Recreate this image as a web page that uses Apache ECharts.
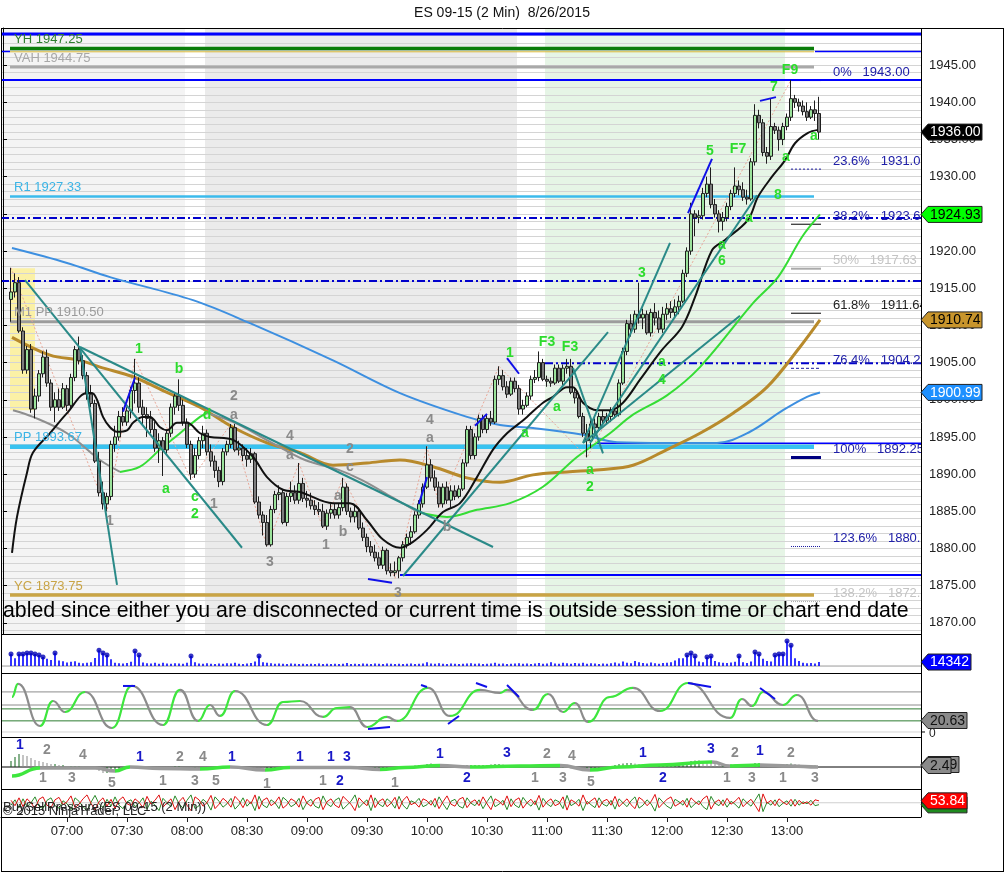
<!DOCTYPE html>
<html><head><meta charset="utf-8">
<script src="https://cdn.jsdelivr.net/npm/echarts@6/dist/echarts.min.js"></script>
<style>html,body{margin:0;padding:0;background:#fff}#c{width:1005px;height:873px}</style>
</head><body><div id="c"></div>
<script>
const FONT = '"Liberation Sans", Arial, sans-serif';

// ---------------- DATA ----------------
const titleText = 'ES 09-15 (2 Min)  8/26/2015';
const timeLabels = ['07:00','07:30','08:00','08:30','09:00','09:30','10:00','10:30','11:00','11:30','12:00','12:30','13:00'];
const firstBarMinute = 6*60+28;   // 06:28, one slot every 2 minutes
const slotCount = 230;
const candleStart = 2;            // first drawn candle slot (06:32)

// [open, close, low, high]
const candles = [
[1913.5,1914.5,1910.5,1917.75],[1914.5,1915.75,1913.75,1917],[1915.75,1909.25,1909,1916.5],[1909.25,1904,1903.5,1909.75],
[1904,1906.75,1903.5,1907.25],[1906.75,1898.75,1898.25,1907.5],[1898.75,1900.5,1897.5,1901.5],[1900.5,1903.5,1899.75,1904],
[1903.5,1905.75,1903,1906.5],[1905.75,1902.25,1901.75,1906.75],[1902.25,1899,1898.5,1902.75],[1899,1900,1897,1901],
[1900,1899,1898.5,1901.5],[1899,1901.5,1898.75,1902.25],[1901.5,1899.25,1898.5,1902],[1899.25,1903,1898.75,1903.5],
[1903,1906.75,1902.5,1907.25],[1906.75,1905.25,1904.75,1908.5],[1905.25,1903.25,1902.75,1906],[1903.25,1900.75,1900,1903.75],
[1900.75,1899.5,1899,1902],[1899.5,1891.75,1891.5,1900],[1891.75,1887.5,1887,1893],[1887.5,1886,1885.25,1889],
[1886,1887,1885,1887.5],[1887,1894,1886.5,1894.5],[1894,1895,1893,1896.5],[1895,1897.75,1894.5,1898.5],
[1897.75,1897,1896.5,1899],[1897,1898.5,1896.5,1899],[1898.5,1901.25,1897.5,1901.75],[1901.25,1902.25,1899.5,1905.5],
[1902.25,1899,1898.25,1903],[1899,1898,1896.5,1900],[1898,1897.5,1895,1899],[1897.5,1896,1895.5,1898.5],
[1896,1893.5,1893,1897],[1893.5,1894.5,1891.5,1895.5],[1894.5,1893.25,1889.75,1895],[1893.25,1895.5,1892.75,1896],
[1895.5,1899,1895,1899.5],[1899,1900.5,1898,1901],[1900.5,1899.25,1898.5,1902.75],[1899.25,1897,1896.5,1900],
[1897,1894,1893.5,1897.5],[1894,1890,1889.25,1894.5],[1890,1892.5,1889.5,1893.5],[1892.5,1894.5,1892,1895],
[1894.5,1895.5,1893.5,1896.5],[1895.5,1893,1892.5,1896],[1893,1891.75,1891,1894],[1891.75,1890.5,1889.5,1892.5],
[1890.5,1889,1888.25,1891],[1889,1893,1888.5,1893.5],[1893,1894,1892.5,1894.5],[1894,1896.25,1893.5,1896.75],
[1896.25,1893.25,1893,1896.75],[1893.25,1893.5,1892.5,1894.5],[1893.5,1892.5,1891.75,1894],[1892.5,1892,1891,1893.5],
[1892,1892.75,1891.5,1893.5],[1892.75,1886.25,1886,1893],[1886.25,1884.5,1884,1887],[1884.5,1883.5,1881.75,1885],
[1883.5,1880.5,1880.25,1884.5],[1880.5,1885.25,1880.25,1885.75],[1885.25,1887.25,1884.75,1887.75],[1887.25,1887.5,1886.5,1888.5],
[1887.5,1883.5,1883.25,1888],[1883.5,1887,1883,1887.5],[1887,1887.5,1886.25,1889],[1887.5,1886.5,1886,1888.5],
[1886.5,1888.75,1886,1891.5],[1888.75,1886.75,1886.25,1889.5],[1886.75,1886.5,1885.5,1887.75],[1886.5,1885.75,1885.25,1887.5],
[1885.75,1885.25,1884.5,1886.5],[1885.25,1885,1884.5,1886.25],[1885,1883,1882.75,1886],[1883,1884.75,1882.5,1885.25],
[1884.75,1885.25,1884,1886],[1885.25,1884.5,1884,1886],[1884.5,1885.5,1884,1886],[1885.5,1888.25,1885,1889.5],
[1888.25,1885,1884.5,1888.75],[1885,1884.25,1883.5,1885.5],[1884.25,1885,1883.5,1886],[1885,1882.75,1882.5,1885.5],
[1882.75,1881.5,1881,1883.5],[1881.5,1880.25,1879.5,1882],[1880.25,1879.5,1879,1881],[1879.5,1878.75,1878.25,1880.5],
[1878.75,1877.75,1877.25,1879.5],[1877.75,1879.75,1877.25,1880.25],[1879.75,1877,1876.5,1880],[1877,1876.75,1876.25,1878],
[1876.75,1877,1876.25,1878.25],[1877,1878.75,1876,1879],[1878.75,1880.5,1878.25,1881],[1880.5,1881.5,1880,1882],
[1881.5,1882.25,1880.5,1883],[1882.25,1884.5,1882,1885],[1884.5,1886,1884,1886.5],[1886,1888.25,1885.5,1888.75],
[1888.25,1891.25,1888,1893.75],[1891.25,1889.5,1889,1892],[1889.5,1888.25,1887.75,1890.5],[1888.25,1886,1885.5,1889],
[1886,1888.25,1885.5,1888.75],[1888.25,1886.5,1886,1889],[1886.5,1887.75,1885.5,1888.5],[1887.75,1887,1886.5,1888.5],
[1887,1888,1886.75,1888.5],[1888,1891.5,1887.75,1892],[1891.5,1896,1891,1896.5],[1896,1892.5,1892,1896.5],
[1892.5,1895,1892,1895.5],[1895,1897.5,1894.5,1898],[1897.5,1896,1895.5,1898],[1896,1897.5,1895.5,1898],
[1897.5,1897,1896.5,1898.5],[1897,1902.75,1896.75,1903.25],[1902.75,1903.25,1902,1904.5],[1903.25,1901.75,1901.25,1904],
[1901.75,1900.75,1900.25,1902.5],[1900.75,1902.5,1900.5,1903],[1902.5,1901.5,1901,1903],[1901.5,1898.75,1898,1902],
[1898.75,1899.25,1898,1900],[1899.25,1900.5,1899,1901],[1900.5,1902.75,1900,1903.25],[1902.75,1903,1902.25,1904],
[1903,1905,1902.5,1906.5],[1905,1902.75,1902.5,1905.5],[1902.75,1902.5,1901.75,1903.25],[1902.5,1902.25,1901.75,1903],
[1902.25,1904.25,1902,1904.75],[1904.25,1902.5,1902.25,1904.75],[1902.5,1904.25,1902,1904.75],[1904.25,1904.5,1903.5,1905.5],
[1904.5,1901,1900.75,1905.5],[1901,1900.25,1899.5,1901.5],[1900.25,1897.75,1897.5,1900.5],[1897.75,1895.5,1895,1898.25],
[1895.5,1894.5,1892.25,1896.75],[1894.5,1896.75,1893.5,1897.25],[1896.75,1896.25,1895.5,1897.5],[1896.25,1897.75,1896,1898.25],
[1897.75,1897.25,1896.75,1898.5],[1897.25,1897.75,1896.75,1898.25],[1897.75,1898.5,1897,1899],[1898.5,1898,1897.5,1899],
[1898,1902.25,1897.75,1902.75],[1902.25,1906.5,1902,1907],[1906.5,1910.25,1906,1910.75],[1910.25,1909.5,1908.5,1911.5],
[1909.5,1911.5,1909,1912],[1911.5,1911,1910.25,1915.75],[1911,1911.5,1909.5,1912.25],[1911.5,1909,1908.75,1912],
[1909,1911.75,1908.5,1912.25],[1911.75,1911,1910,1913],[1911,1909.5,1909,1912],[1909.5,1911.5,1909,1912.5],
[1911.5,1912.25,1910.75,1913],[1912.25,1911.75,1911,1913.25],[1911.75,1912.5,1911,1913.5],[1912.5,1913.25,1911.5,1914],
[1913.25,1917,1913,1917.5],[1917,1920,1916.5,1920.5],[1920,1925,1919.5,1926.5],[1925,1924.5,1922,1925.5],
[1924.5,1924.75,1923.75,1925.5],[1924.75,1927.75,1924.25,1928.5],[1927.75,1929,1927.25,1930],[1929,1926.25,1925.75,1931.25],
[1926.25,1925,1924.5,1927],[1925,1924,1922.5,1925.5],[1924,1924.5,1922.75,1925.25],[1924.5,1926,1924,1926.5],
[1926,1927.75,1925.5,1928.25],[1927.75,1928.75,1927.25,1931.25],[1928.75,1928.25,1927.5,1929.5],[1928.25,1927.25,1926.75,1929.25],
[1927.25,1927,1926.25,1928.25],[1927,1932,1926.75,1932.5],[1932,1938.25,1931.5,1939.75],[1938.25,1937.25,1936.5,1939],
[1937.25,1933.25,1932.75,1937.75],[1933.25,1932.75,1931.75,1934],[1932.75,1936.75,1932.25,1940.5],[1936.75,1936.25,1935.75,1937.25],
[1936.25,1935,1933.5,1936.75],[1935,1936.75,1934.25,1937.25],[1936.75,1938,1936.25,1938.5],[1938,1940.5,1937.5,1943],
[1940.5,1940,1939.25,1941],[1940,1939.5,1938.75,1940.5],[1939.5,1938.75,1938.25,1940.25],[1938.75,1938,1937.5,1940],
[1938,1939,1937.75,1939.5],[1939,1938.5,1937.5,1940.25],[1938.5,1936,1935,1940.75]
];

const volume = [
43000,28000,43000,43000,47000,47000,43000,40000,32000,26000,22000,47000,20000,17000,13000,
15000,17000,12000,10000,12000,14000,29000,57000,47000,40000,24000,12000,10000,9000,11000,
15000,54000,40000,13000,10000,9000,12000,8000,12000,9000,8000,10000,9000,8000,12000,
36000,14000,9000,8000,10000,8000,7000,9000,8000,10000,9000,12000,8000,7000,9000,
11000,16000,36000,14000,12000,10000,8000,9000,8000,7000,9000,8000,7000,8000,7000,
8000,7000,9000,7000,8000,7000,8000,7000,8000,11000,7000,8000,7000,9000,8000,
7000,9000,8000,7000,9000,8000,7000,8000,7000,8000,9000,7000,8000,9000,14000,
9000,8000,10000,8000,7000,9000,8000,7000,8000,9000,10000,8000,9000,7000,8000,
9000,12000,8000,9000,7000,8000,9000,10000,8000,9000,7000,9000,11000,8000,9000,
14000,9000,8000,12000,10000,8000,11000,9000,12000,8000,10000,9000,7000,9000,8000,
10000,13000,9000,16000,12000,10000,18000,14000,11000,9000,13000,10000,8000,11000,12000,
14000,20000,28000,28000,40000,47000,36000,16000,14000,32000,36000,18000,14000,12000,11000,
13000,15000,36000,14000,11000,16000,50000,43000,26000,18000,16000,40000,43000,43000,90000,
75000,28000,18000,12000,10000,11000,9000,14342
];

const momentumHist = [
6,10,13,12,11,9,7,6,5,4,3,3,2,2,1,
1,1,1,0.5,0,-0.5,-2,-4,-6,-6,-5,-3,-2,-1,0,
0.5,1,0.5,0,-0.5,-1,-1,-1.5,-1,-0.5,0,0.5,0.5,0,-0.5,
-1,-1,-0.5,0,0,0,-0.5,-0.5,0,0.5,0.5,0,0,-0.5,-0.5,
-1,-2,-3,-4,-4,-3,-2,-1,-1,-0.5,0,0,0,0,0,
-0.5,-0.5,-1,-1,-1,-0.5,0,0,0,0,-0.5,-1,-1,-1.5,-2,
-2.5,-2.5,-2.5,-2,-2,-1.5,-1,-0.5,0,0.5,1,1.5,2,2,3,
3.5,3,2.5,2,1.5,1,1,1,1.5,2,2,2,2,2,2,
2.5,3,3,2.5,2,1.5,1,1,1,1.5,1.5,2,2,1.5,1,
0.5,0,-0.5,-0.5,-1,-1.5,-2,-3,-3.5,-3.5,-3,-2.5,-2,-1,0,
1,2,3,3.5,4,4,3.5,3,2.5,2,1.5,1,1,1,1.5,
2,2.5,3,4,5,6,6.5,6.5,6,5,4,3,2,2,2,
2.5,2.5,2,2,1.5,3,4,4,3,3,3,2.5,2,2.5,3,
3.5,3,2.5,2,2,1.5,1.5,1
];

const sellPressure = [
55,44,60,42,58,50,38,57,62,45,40,56,61,46,52,
64,40,47,58,66,49,35,52,60,43,57,38,55,62,48,
44,58,51,40,63,47,55,66,41,50,58,36,52,61,45,
34,62,56,43,50,65,38,47,59,52,41,63,54,40,57,
48,66,37,55,60,44,50,62,39,46,58,53,41,64,49,
43,57,61,36,52,58,45,40,63,55,47,34,60,51,44,
66,40,53,58,42,49,61,37,55,63,46,50,41,58,54,
45,59,38,52,64,47,43,57,61,40,51,56,44,62,48,
36,58,53,45,64,42,55,60,39,50,57,46,65,41,52,
58,44,48,62,35,56,51,43,66,47,54,60,40,53,57,
45,63,42,50,58,46,38,61,55,44,52,67,40,49,57,
62,43,48,55,41,60,52,46,58,64,37,51,56,44,59,
47,53,61,42,50,57,45,32,68,49,55,44,58,51,46,
57,43,55,48,52,45,56,53.84
];
const buyPressure = [
45,56,40,58,42,50,62,43,38,55,60,44,39,54,48,
36,60,53,42,34,51,65,48,40,57,43,62,45,38,52,
56,42,49,60,37,53,45,34,59,50,42,64,48,39,55,
66,38,44,57,50,35,62,53,41,48,59,37,46,60,43,
52,34,63,45,40,56,50,38,61,54,42,47,59,36,51,
57,43,39,64,48,42,55,60,37,45,53,66,40,49,56,
34,60,47,42,58,51,39,63,45,37,54,50,59,42,46,
55,41,62,48,36,53,57,43,39,60,49,44,56,38,52,
64,42,47,55,36,58,45,40,61,50,43,54,35,59,48,
42,56,52,38,65,44,49,57,34,53,46,40,60,47,43,
55,37,58,50,42,54,62,39,45,56,48,33,60,51,43,
38,57,52,45,59,40,48,54,42,36,63,49,44,56,41,
53,47,39,58,50,43,55,68,32,51,45,56,42,49,54,
43,57,45,52,48,55,44,46.16
];

// moving averages as [slot, price]
const emaFast = [[2.25,1879.4],[3.5,1884.25],[6,1890.2],[7.5,1892.9],[11.75,1895.5],[16,1898.2],[21,1900.9],[22.25,1900.9],[23.5,1900],[25,1897.7],[26.75,1896.3],[28.5,1895.7],[31,1895.9],[32.5,1896.9],[35,1897.7],[36.75,1897.7],[39.25,1896.3],[41,1895.9],[43.5,1896.9],[46,1896.9],[49.25,1895.5],[51.75,1895],[57.5,1894.6],[62.5,1892.3],[66,1889.6],[70,1887.9],[74.25,1887.6],[82.5,1886.1],[86.75,1886.1],[91,1883.8],[95,1881.2],[99.25,1880.1],[102.5,1880.9],[106,1882.5],[110,1884.9],[114.25,1886.1],[118.5,1889.6],[122.5,1893.3],[126,1895.5],[129.25,1896.9],[131,1897.7],[135,1899.6],[137.5,1900.4],[141,1901.7],[142.5,1901.7],[145,1899.6],[148.5,1898.6],[151.75,1898.6],[155,1899.6],[159.25,1902.7],[164.75,1906.7],[169.75,1909.8],[173,1913.8],[177.25,1920.1],[180.5,1921.5],[186.25,1924.2],[188.75,1927.3],[192.25,1930],[195.5,1932.2],[198,1934.5],[201.25,1935.9],[203.75,1936.3]];
const smaMidFallA = [[2.5,1898.6],[7.5,1897.7],[16,1895.5],[24.25,1891.9],[29.25,1890.3]];
const smaMidRiseA = [[29.25,1890.3],[34.25,1891],[39.25,1893.3],[44.25,1895.5],[49.25,1897.7],[51,1898.2]];
const smaMidFallB = [[51,1898.2],[58,1896.9],[67.25,1894.2],[75.5,1891.9],[83.75,1890.6],[89.75,1889.2],[97.25,1886.9],[103.75,1884.9]];
const smaMidRiseB = [[103.75,1884.9],[111,1884.25],[118.5,1885.2],[126.75,1886.1],[135,1888.3],[143.5,1892.3],[151.75,1895.5],[157.5,1898],[166,1900.6],[174.25,1904.4],[187.5,1913],[193.75,1916.5],[199.75,1921.9],[204.25,1924.93]];
const smaSlow = [[2.25,1908.4],[11.75,1906],[19.25,1905.3],[24.25,1904.4],[32.5,1903.1],[41,1901],[49.25,1899],[57.5,1896.3],[66,1894.2],[74.25,1892.9],[82.5,1891.2],[91,1891.5],[99.25,1891.9],[107.5,1891],[116,1889.5],[124.25,1888.9],[132.5,1889.9],[141,1890.3],[149.25,1890.6],[157.5,1891.2],[166,1893.3],[174.25,1895.5],[182.5,1898.2],[191,1901.7],[199.25,1907.1],[204.25,1910.74]];
const sma200 = [[2.25,1920.4],[16,1918.4],[26.75,1916.5],[47.5,1913.4],[61.75,1910.3],[82.5,1905.3],[99.25,1900.9],[116,1897.7],[124.25,1896.6],[132.5,1896.2],[145,1895.3],[153.5,1894.3],[166,1894.2],[178.5,1894.2],[186.75,1895.7],[195,1898.6],[201,1900.4],[204.25,1900.99]];

const zigzag = [[2,1917.75],[26,1885],[33,1905.5],[47,1889.25],[57,1896.75],[66,1880.25],[74,1891.5],[80,1882.75],[85,1889.5],[98,1876],[106,1893.75],[109,1885.5],[124,1904.5],[146,1892.25],[197,1943]];

// trend lines [x0, p0, x1, p1]
const trendLines = [[5.5,1916.1,59.75,1880.1],[19.25,1907.1,28.5,1875.1],[19.25,1907.1,122.5,1880.2],[100,1876.3,151.25,1909.1],[145,1894.2,184.25,1911.3],[142.5,1904.3,150,1892.8],[145,1894.2,166.75,1921.1],[146.75,1894.2,188.5,1927.5]];
const blueSwings = [[30,1898.4,33,1903],[91.25,1875.9,97.25,1875.4],[104,1886,106,1889.6],[118,1896.5,121,1898.1],[126,1905.6,129,1903.5],[171.25,1925.1,177.25,1932.4],[189.25,1940.2,193.25,1940.7]];

// horizontal price levels [x0, x1, price]
const levelLines = {
  topBlue: [-0.5, 229.5, 1949.2],
  blueHigh: [203, 229.5, 1946.85],
  blueHighLeft: [-0.5, 1.75, 1946.85],
  yh: [1.75, 202.75, 1947.25],
  yhGold: [1.75, 202.75, 1946.8],
  vah: [1.75, 202.75, 1944.75],
  fibTop: [-0.5, 229.5, 1943.0],
  r1: [1.75, 202.75, 1927.33],
  dashA: [-0.5, 229.5, 1924.44],
  dashB: [-0.5, 229.5, 1915.97],
  mpp: [1.75, 202.75, 1910.50],
  dashC: [135.5, 229.5, 1904.9],
  pp: [1.75, 202.75, 1893.67],
  blueMid: [148.5, 229.5, 1894.16],
  blueLow: [99.25, 229.5, 1876.45],
  yc: [1.75, 202.75, 1873.75]
};
const levelLabels = [[2.75,1947.25,'YH 1947.25'],[2.75,1944.75,'VAH 1944.75'],[2.75,1927.33,'R1 1927.33'],[2.75,1910.50,'M1 PP 1910.50'],[2.75,1893.67,'PP 1893.67'],[2.75,1873.75,'YC 1873.75']];
const fibLevels = [['0%',1943.00],['23.6%',1931.02],['38.2%',1923.61],['50%',1917.63],['61.8%',1911.64],['76.4%',1904.23],['100%',1892.25],['123.6%',1880.27],['138.2%',1872.86]];
const fibSpan = [197, 204.5];

const sessionBands = [[-0.5,45.5],[50.5,128.5],[135.5,195.5]];
const highlightBox = [1.75, 8, 1898.6, 1917.7];

const greenWaveLabels = [[34,1906.8,'1'],[44,1904.1,'b'],[40.75,1888,'a'],[48,1886.9,'c'],[48,1884.6,'2'],[51,1898,'d'],[126.75,1906.3,'1'],[136,1907.8,'F3'],[141.75,1907.1,'F3'],[130.5,1895.5,'a'],[138.5,1899,'a'],[146.75,1890.6,'a'],[146.75,1888.3,'2'],[164.75,1905,'a'],[164.75,1902.7,'4'],[159.75,1917,'3'],[176.75,1933.4,'5'],[183.75,1933.7,'F7'],[179.75,1920.8,'a'],[179.75,1918.7,'6'],[186.5,1924.4,'a'],[193.75,1927.5,'8'],[192.75,1942,'7'],[196.75,1944.3,'F9'],[195.75,1932.6,'a'],[202.75,1935.5,'a']];
const grayWaveLabels = [[26.75,1883.7,'1'],[57.75,1900.5,'2'],[57.75,1898,'a'],[52.75,1885.9,'1'],[71.75,1895.1,'4'],[71.75,1892.6,'a'],[66.75,1878.1,'3'],[86.75,1893.3,'2'],[86.75,1891,'c'],[83.75,1887,'a'],[85,1882.2,'b'],[80.75,1880.5,'1'],[106.75,1897.3,'4'],[106.75,1894.9,'a'],[98.75,1874,'3'],[111,1882.9,'b']];

const oscTurns = [[2.25,62.9],[3.75,86.3],[9.25,10.8],[12.5,55.7],[15.5,35.9],[20.5,71.9],[27.25,7.2],[32.25,82.7],[40,12.6],[44.25,75.5],[48.75,19.8],[51.75,48.5],[54.25,28.8],[58,73.7],[66,12.6],[70,53.9],[74.25,55.7],[80,27],[83.5,43.1],[86.75,44.9],[91,9],[96,27],[98.5,19.8],[106.25,79.1],[111.75,28.8],[119.25,75.5],[124.25,70.1],[126,75.5],[132.5,39.5],[136.25,68.3],[140,35.9],[143,52.1],[146.25,18],[151.75,62.9],[157.5,79.1],[164.25,37.7],[171.25,88],[181.75,25.2],[184.75,59.3],[187.25,46.7],[190,71.9],[195,48.5],[198.5,66.5],[203.75,19.8]];
const oscLevels = [72, 48.5, 41.5, 20, 0];
const oscSwings = [[30,82.7,33,82.7],[91.25,5.4,96.75,9],[104.5,84.5,106,80.9],[111.25,14.4,114,28.8],[118.25,88,121,80.9],[126,84.5,129,62.9],[171.25,88,177,80.9],[189.25,79.1,193,59.3]];

const momTurns = [[2.25,-9],[9.25,-1],[23,-1],[28,-4],[31.75,0],[39.25,-1.5],[49.25,-2],[56.75,0],[65.5,-3],[71.75,-0.5],[86.75,-0.5],[94.25,-2.5],[100.5,-0.5],[109.25,1.5],[116.75,0],[129.25,1],[139.25,1.5],[146.75,-3],[154.25,0],[164.25,2],[177.25,5],[181.75,1],[189.25,2],[196.75,1],[203.75,0]];
const momLabelsBlue = [[4.25,22,'1'],[34.25,10,'1'],[57.25,10,'1'],[74.25,10,'1'],[82,10,'1'],[86,10,'3'],[109.25,13,'1'],[126,14,'3'],[160,14,'1'],[177,18,'3'],[189.25,16,'1'],[84.25,-14,'2'],[116,-11,'2'],[165,-11,'2']];
const momLabelsGray = [[11,17,'2'],[20,12,'4'],[44.25,10,'2'],[50,10,'4'],[136,13,'2'],[142.25,11,'4'],[183,14,'2'],[197,14,'2'],[10,-11,'1'],[17.25,-11,'3'],[27.25,-16,'5'],[40,-14,'1'],[48,-14,'3'],[53.25,-14,'5'],[66,-17,'1'],[80,-14,'1'],[98,-16,'1'],[133,-11,'1'],[140,-11,'3'],[147,-15,'5'],[181,-11,'1'],[187.25,-11,'3'],[195,-11,'1'],[203,-11,'3']];

// right-edge value markers: [axis, value, text]
const markers = [[0,1936.00,'1936.00'],[0,1924.93,'1924.93'],[0,1910.74,'1910.74'],[0,1900.99,'1900.99'],[1,14342,'14342'],[2,20.63,'20.63'],[3,2.49,'2.49'],[4,53.84,'53.84']];

// ---------------- CHART ----------------
const cats = [];
for (let k = 0; k < slotCount; k++) {
  const m = firstBarMinute + 2*k;
  cats.push(String(Math.floor(m/60)).padStart(2,'0') + ':' + String(m%60).padStart(2,'0'));
}
const X0 = -0.5, X1 = slotCount - 0.5;
const PANELS = [{top:28,height:606},{top:634,height:39},{top:673,height:64},{top:737,height:52},{top:789,height:28}];
const grid = PANELS.map(p => ({left:1, right:84, top:p.top, height:p.height, show:false, containLabel:false, outerBoundsMode:'none'}));
const xAxis = PANELS.map((p,k) => ({type:'value', gridIndex:k, min:X0, max:X1, show:false}));
xAxis.push({type:'category', gridIndex:4, data:cats, boundaryGap:true, position:'bottom',
  axisLine:{show:true, lineStyle:{color:'#000', width:1}},
  axisTick:{show:true, alignWithLabel:true, interval:(i,v)=>timeLabels.includes(v), length:5, lineStyle:{color:'#222'}},
  axisLabel:{show:true, interval:(i,v)=>timeLabels.includes(v), color:'#222', fontSize:13, fontFamily:FONT, margin:8},
  splitLine:{show:false}});
const yAxis = [
  {type:'value', gridIndex:0, position:'right', min:1868.5, max:1950, splitNumber:16, minInterval:5, maxInterval:5,
   axisLine:{show:true, lineStyle:{color:'#000'}}, axisTick:{show:true, length:4, lineStyle:{color:'#000'}},
   axisLabel:{formatter:v=>v.toFixed(2), color:'#222', fontSize:13, fontFamily:FONT, margin:8, showMinLabel:false, showMaxLabel:false},
   splitLine:{show:true, lineStyle:{color:'#d4d4d4', width:1}},
   minorTick:{show:false, splitNumber:5},
   minorSplitLine:{show:true, lineStyle:{color:'#d4d4d4', width:1}}},
  {type:'value', gridIndex:1, min:-25000, max:115000, show:false},
  {type:'value', gridIndex:2, min:-9, max:106, show:false},
  {type:'value', gridIndex:3, min:-22, max:30, show:false},
  {type:'value', gridIndex:4, min:21, max:78, show:false}
];

const series = [];
const bandColors = ['#f4f4f4','#ebebeb','#e6f5e6'];
series.push({type:'custom', xAxisIndex:0, yAxisIndex:0, z:-2, silent:true, clip:true,
  encode:{x:[0,1]}, data:sessionBands.map(b=>[b[0],b[1]]),
  renderItem:(params, api) => {
    const a = api.coord([api.value(0), 1900]), b = api.coord([api.value(1), 1900]);
    const cs = params.coordSys;
    return {type:'rect', shape:{x:a[0], y:cs.y, width:b[0]-a[0], height:cs.height}, style:{fill:bandColors[params.dataIndex]}};
  }});
series.push({type:'custom', xAxisIndex:0, yAxisIndex:0, z:-1, silent:true, clip:true,
  encode:{x:[0,1], y:[2,3]}, data:[highlightBox],
  renderItem:(params, api) => {
    const a = api.coord([api.value(0), api.value(3)]), b = api.coord([api.value(1), api.value(2)]);
    return {type:'rect', shape:{x:a[0], y:a[1], width:b[0]-a[0], height:b[1]-a[1]}, style:{fill:'#fbf1a6'}};
  }});

function seg(gi, x0, y0, x1, y1, color, width, type, z) {
  return {type:'line', xAxisIndex:gi, yAxisIndex:gi, data:[[x0,y0],[x1,y1]], symbol:'none', silent:true,
    lineStyle:{color, width, type:type||'solid'}, z:z||2};
}
function hl(gi, def, color, width, type, z) { return seg(gi, def[0], def[2], def[1], def[2], color, width, type, z); }
const DASHDOT = [8,3,2,3];
const L = levelLines;
series.push(hl(0, L.topBlue, '#0000ff', 3));
series.push(hl(0, L.yh, '#0a7d0a', 3.5));
series.push(hl(0, L.yhGold, '#d8b83a', 1));
series.push(hl(0, L.blueHigh, '#0000ff', 1.5));
series.push(hl(0, L.blueHighLeft, '#0000ff', 1.5));
series.push(hl(0, L.vah, '#a9a9a9', 3));
series.push(hl(0, L.fibTop, '#0000ff', 2));
series.push(hl(0, L.r1, '#3cbbec', 2.5));
series.push(hl(0, L.dashA, '#0000cc', 2, DASHDOT));
series.push(hl(0, L.dashB, '#0000cc', 2, DASHDOT));
series.push(hl(0, L.mpp, '#9c9c9c', 3));
series.push(hl(0, L.dashC, '#0000cc', 2, DASHDOT));
series.push(hl(0, L.blueMid, '#0000ff', 1.5));
series.push(hl(0, L.pp, '#38c2f0', 4.5));
series.push(hl(0, L.blueLow, '#0000ff', 2));
series.push(hl(0, L.yc, '#c9a445', 3.5));

// fib short lines
const fibLineStyle = [['#0000ff',2,'solid'],['#1a1aa0',1,[2,2]],['#000',1,'solid'],['#aaa',2,'solid'],['#000',1,'solid'],['#1a1aa0',1,[3,2]],['#000080',3,'solid'],['#1a1aa0',1,[1,1]],['#aaa',1,[1,1]]];
fibLevels.forEach((f,k) => series.push(seg(0, fibSpan[0], f[1], fibSpan[1], f[1], fibLineStyle[k][0], fibLineStyle[k][1], fibLineStyle[k][2])));

// zigzag
series.push({type:'line', xAxisIndex:0, yAxisIndex:0, data:zigzag, symbol:'none', silent:true, z:2, lineStyle:{color:'#eaa898', width:1, type:[2,2]}});

// moving averages
function ma(pts, color, width, z) {
  return {type:'line', xAxisIndex:0, yAxisIndex:0, data:pts, symbol:'none', silent:true, smooth:0.35, z:z||4, lineStyle:{color, width}};
}
series.push(ma(sma200, '#3d8fe0', 2));
series.push(ma(smaSlow, '#b88a2c', 3));
series.push(ma(smaMidFallA, '#8e8e8e', 2));
series.push(ma(smaMidRiseA, '#35dd35', 2));
series.push(ma(smaMidFallB, '#8e8e8e', 2));
series.push(ma(smaMidRiseB, '#35dd35', 2));

// candles
series.push({type:'candlestick', xAxisIndex:0, yAxisIndex:0, z:5, silent:true, barWidth:3.4,
  encode:{x:0, y:[1,2,3,4]},
  data:candles.map((c,k)=>[k+candleStart, c[0], c[1], c[2], c[3]]),
  itemStyle:{color:'#9be39b', color0:'#7d7d7d', borderColor:'#1e1e1e', borderColor0:'#1e1e1e', borderWidth:1}});

series.push(ma(emaFast, '#111', 2, 6));
trendLines.forEach(t => series.push(seg(0, t[0], t[1], t[2], t[3], '#2a8a88', 2, 'solid', 6)));
blueSwings.forEach(t => series.push(seg(0, t[0], t[1], t[2], t[3], '#1010e8', 2, 'solid', 6)));

function textSeries(gi, items, font, color, align, dy, z) {
  return {type:'custom', xAxisIndex:gi, yAxisIndex:gi, silent:true, clip:true, z:z||7,
    encode:{x:0, y:1}, data:items.map(t=>[t[0], t[1]]),
    renderItem:(params, api) => {
      const t = items[params.dataIndex];
      const p = api.coord([api.value(0), api.value(1)]);
      return {type:'text', x:p[0], y:p[1]+(dy||0),
        style:{text:t[2], fill:t[3]||color, font, align:align||'center', verticalAlign:'middle'}};
    }};
}
series.push(textSeries(0, greenWaveLabels, 'bold 14px '+FONT, '#2cdc2c'));
series.push(textSeries(0, grayWaveLabels, 'bold 14px '+FONT, '#8a8a8a'));
const levelLabelColors = ['#2f7d2f','#a8a8a8','#3ab4e6','#9a9a9a','#3ab4e6','#c9a445'];
series.push(textSeries(0, levelLabels.map((l,k)=>[l[0],l[1],l[2],levelLabelColors[k]]), '13px '+FONT, '#000', 'left', -9));
const fibTextColors = ['#2020a8','#2020a8','#2020a8','#c4c4c4','#222','#2020a8','#2020a8','#2020a8','#c4c4c4'];
series.push(textSeries(0, fibLevels.map((f,k)=>[207.5, f[1], f[0]+'   '+f[1].toFixed(2), fibTextColors[k]]), '13px '+FONT, '#000', 'left', -8));

// volume panel
series.push(seg(1, X0, 0, X1, 0, '#9a9a9a', 1, 'solid', 2));
series.push({type:'bar', xAxisIndex:1, yAxisIndex:1, barWidth:1.6, silent:true, z:3,
  data:volume.map((v,k)=>[k+candleStart, v]), itemStyle:{color:'#0000ff'}});
series.push({type:'scatter', xAxisIndex:1, yAxisIndex:1, silent:true, z:4, symbolSize:5,
  data:volume.map((v,k)=>[k+candleStart, v]).filter(d=>d[1] >= 31000), itemStyle:{color:'#0000b4'}});

// oscillator panel
const oscLevelColors = ['#8c8c8c','#8c8c8c','#2e7d32','#2e7d32','#d6d6d6'];
oscLevels.forEach((v,k) => series.push(seg(2, X0, v, X1, v, oscLevelColors[k], 1, 'solid', 2)));
function waveSeries(gi, turns, upColor, downColor, width, z) {
  const segs = [];
  for (let k = 1; k < turns.length; k++) segs.push([turns[k-1][0], turns[k-1][1], turns[k][0], turns[k][1]]);
  return {type:'custom', xAxisIndex:gi, yAxisIndex:gi, silent:true, clip:true, z:z||4,
    encode:{x:[0,2], y:[1,3]}, data:segs,
    renderItem:(params, api) => {
      const a = api.coord([api.value(0), api.value(1)]), b = api.coord([api.value(2), api.value(3)]);
      const mx = (b[0]-a[0])/2;
      const up = api.value(3) > api.value(1);
      return {type:'bezierCurve', shape:{x1:a[0], y1:a[1], x2:b[0], y2:b[1], cpx1:a[0]+mx, cpy1:a[1], cpx2:b[0]-mx, cpy2:b[1]},
        style:{stroke: up ? upColor : downColor, lineWidth:width, fill:'none'}};
    }};
}
series.push(waveSeries(2, oscTurns, '#3ee63e', '#8c8c8c', 2.2));
oscSwings.forEach(t => series.push(seg(2, t[0], t[1], t[2], t[3], '#1010e8', 2, 'solid', 5)));

// momentum panel
series.push({type:'bar', xAxisIndex:3, yAxisIndex:3, barWidth:1, silent:true, z:3,
  data:momentumHist.map((v,k)=>({value:[k+candleStart, v], itemStyle:{color:(k>0 && v < momentumHist[k-1]) ? '#8a8a8a' : '#11661a'}}))});
series.push(seg(3, X0, 0, X1, 0, '#000', 1, 'solid', 2));
series.push(waveSeries(3, momTurns, '#3ee63e', '#9a9a9a', 3.5, 4));
series.push(textSeries(3, momLabelsBlue, 'bold 14px '+FONT, '#1818c8'));
series.push(textSeries(3, momLabelsGray, 'bold 14px '+FONT, '#8a8a8a'));

// pressure panel
series.push(seg(4, X0, 50, X1, 50, '#cfcfcf', 1, 'solid', 2));
series.push({type:'line', xAxisIndex:4, yAxisIndex:4, symbol:'none', silent:true, z:3, data:buyPressure.map((v,k)=>[k+candleStart, v]), lineStyle:{color:'#2a8a2a', width:1}});
series.push({type:'line', xAxisIndex:4, yAxisIndex:4, symbol:'none', silent:true, z:4, data:sellPressure.map((v,k)=>[k+candleStart, v]), lineStyle:{color:'#e01010', width:1}});

const chart = echarts.init(document.getElementById('c'));
chart.setOption({animation:false, backgroundColor:'#fff', grid, xAxis, yAxis, series});

// ---------- overlay graphics ----------
const g = [];
g.push({type:'text', x:502, y:13, style:{text:titleText, font:'14px '+FONT, fill:'#111', align:'center', verticalAlign:'middle'}, z:20});
const frameStroke = {stroke:'#000', lineWidth:1};
[[1,28.5,1004,28.5],[1.5,28,1.5,872],[1003.5,28,1003.5,872],[1,871.5,1004,871.5],[921.5,28,921.5,817],
 [1,634.5,921,634.5],[1,673.5,921,673.5],[1,737.5,921,737.5],[1,789.5,921,789.5]].forEach(l =>
  g.push({type:'line', shape:{x1:l[0],y1:l[1],x2:l[2],y2:l[3]}, style:frameStroke, z:20, silent:true}));
g.push({type:'text', x:3, y:611, style:{text:'abled since either you are disconnected or current time is outside session time or chart end date', font:'21.3px '+FONT, fill:'#000', align:'left', verticalAlign:'middle'}, z:20});
g.push({type:'text', x:3, y:807, style:{text:'BuySellPressure(ES 09-15 (2 Min))', font:'13px '+FONT, fill:'#222', align:'left', verticalAlign:'middle'}, z:20});
g.push({type:'text', x:3, y:811, style:{text:'\u00a9 2015 NinjaTrader, LLC', font:'13px '+FONT, fill:'#222', align:'left', verticalAlign:'middle'}, z:20});
const yZero = chart.convertToPixel({yAxisIndex:2}, 0);
g.push({type:'line', shape:{x1:921, y1:yZero, x2:925, y2:yZero}, style:frameStroke, z:20});
g.push({type:'text', x:929, y:yZero+2, style:{text:'0', font:'12px '+FONT, fill:'#222', align:'left', verticalAlign:'middle'}, z:20});

const markerStyle = [['#000000','#ffffff',982],['#00ff00','#000000',982],['#c8952c','#000000',982],['#1e90ff','#ffffff',982],['#0000ff','#ffffff',971],['#8a8a8a','#111111',967],['#8a8a8a','#111111',959],['#ff0000','#ffffff',967]];
function markerBox(y, right, fill, color, text, z) {
  g.push({type:'polygon', shape:{points:[[921,y],[928,y-8],[right,y-8],[right,y+8],[928,y+8]]}, style:{fill, stroke:'#222', lineWidth:1}, z});
  g.push({type:'text', x:930, y:y+0.5, style:{text, font:'14px '+FONT, fill:color, align:'left', verticalAlign:'middle'}, z:z+1});
}
markers.forEach((m,k) => {
  const y = chart.convertToPixel({yAxisIndex:m[0]}, m[1]);
  const s = markerStyle[k];
  if (m[0] === 4) markerBox(y+4, s[2], '#1e8a1e', '#1e8a1e', '', 21);
  markerBox(y, s[2], s[0], s[1], m[2], 23);
  if (m[0] === 3) markerBox(y+1, s[2]-8, s[0], s[1], m[2].slice(0,3), 25);
});
chart.setOption({graphic:g});
</script>
</body></html>
